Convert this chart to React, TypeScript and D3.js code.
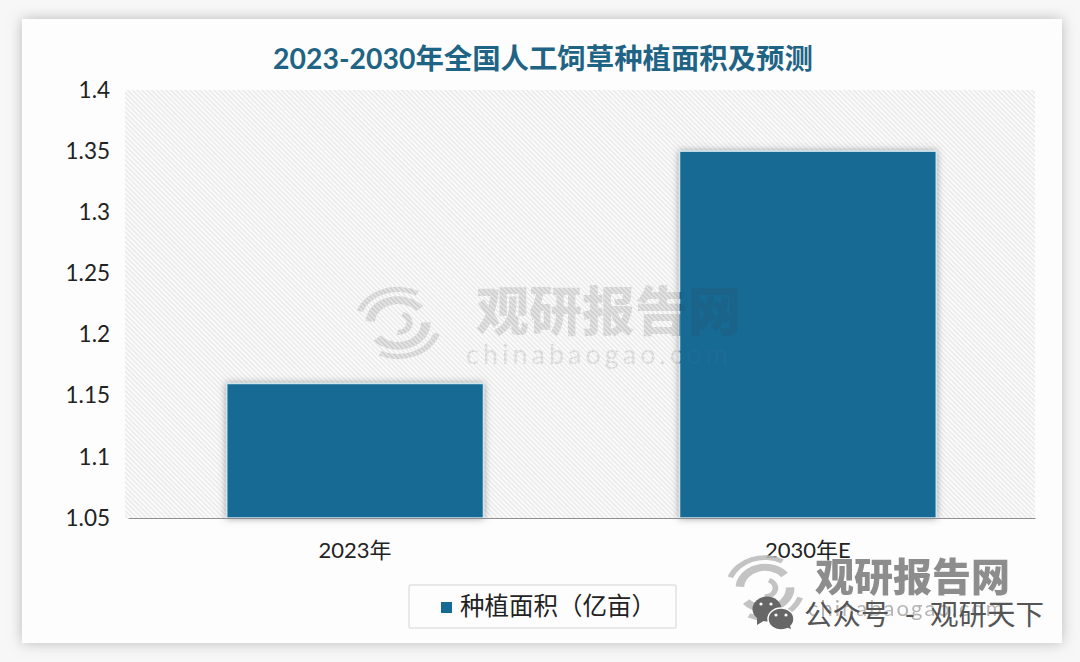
import React, { useEffect, useRef } from "react"
import * as d3 from "d3"

const categories = ["2023年", "2030年E"]
const areaValues = [1.16, 1.35]
const yTicks = [1.05, 1.1, 1.15, 1.2, 1.25, 1.3, 1.35, 1.4]
const yTickLabels = ["1.05", "1.1", "1.15", "1.2", "1.25", "1.3", "1.35", "1.4"]
const chartTitle = "2023-2030年全国人工饲草种植面积及预测"
const seriesName = "种植面积（亿亩）"
const brandName = "观研报告网"
const brandSite = "chinabaogao.com"

const WIDTH = 1080
const HEIGHT = 662
const MARGIN = { top: 90, right: 45, bottom: 144, left: 128 }
const FONT = 'Lato, "Noto Sans CJK SC", sans-serif'
const BAR = "#156a94"

// swirl logo of the watermark
function drawLogo(g: any, cx: number, cy: number, scale: number, color: string, opacity: number) {
  const logo = g.append("g").attr("transform", `translate(${cx},${cy}) scale(${scale},${scale * 0.82}) rotate(-12)`)
    .attr("fill", color).attr("opacity", opacity)
  const arc = d3.arc()
  const parts = [
    [22, 31, -1.3, 1.1], [22, 31, 1.75, 4.2], [36, 42, -1.0, 0.7], [36, 42, 2.1, 3.8],
    [8, 14, 0.6, 3.4],
  ]
  parts.forEach(([r0, r1, a0, a1]) => {
    logo.append("path").attr("d", arc({ innerRadius: r0, outerRadius: r1, startAngle: a0, endAngle: a1 }) as string)
  })
}

export default function App() {
  const svgRef = useRef<SVGSVGElement>(null)

  useEffect(() => {
    const svg = d3.select(svgRef.current)
    svg.selectAll("*").remove()

    const innerW = WIDTH - MARGIN.left - MARGIN.right
    const innerH = HEIGHT - MARGIN.top - MARGIN.bottom

    const x = d3.scaleBand<string>().domain(categories).range([0, innerW])
      .paddingInner(0.433).paddingOuter(0.218)
    const y = d3.scaleLinear().domain([1.05, 1.4]).range([innerH, 0])

    const defs = svg.append("defs")
    const hatch = defs.append("pattern").attr("id", "hatch")
      .attr("width", 3.4).attr("height", 3.4)
      .attr("patternUnits", "userSpaceOnUse")
      .attr("patternTransform", "rotate(45)")
    hatch.append("rect").attr("width", 3.4).attr("height", 1.4).attr("fill", "#e8e8e8")

    const cardShadow = defs.append("filter").attr("id", "cardShadow")
      .attr("x", "-5%").attr("y", "-5%").attr("width", "110%").attr("height", "110%")
    cardShadow.append("feDropShadow").attr("dx", 0).attr("dy", 0)
      .attr("stdDeviation", 7).attr("flood-color", "#8f8f8f").attr("flood-opacity", 0.6)

    const barShadow = defs.append("filter").attr("id", "barShadow")
      .attr("x", "-10%").attr("y", "-10%").attr("width", "120%").attr("height", "120%")
    barShadow.append("feDropShadow").attr("dx", 0).attr("dy", 0)
      .attr("stdDeviation", 3.5).attr("flood-color", "#666").attr("flood-opacity", 0.6)

    const soft = defs.append("filter").attr("id", "soft")
    soft.append("feGaussianBlur").attr("stdDeviation", 0.7)

    defs.append("clipPath").attr("id", "tallBar").append("rect")
      .attr("x", MARGIN.left + (x(categories[1]) as number))
      .attr("y", MARGIN.top + y(areaValues[1]))
      .attr("width", x.bandwidth())
      .attr("height", innerH - y(areaValues[1]))

    // Page and card
    svg.append("rect").attr("width", WIDTH).attr("height", HEIGHT).attr("fill", "#f7f7f7")
    svg.append("rect").attr("x", 22).attr("y", 19).attr("width", 1040).attr("height", 624)
      .attr("fill", "#fdfdfe").attr("filter", "url(#cardShadow)")

    svg.append("text").attr("x", 543).attr("y", 69).attr("text-anchor", "middle")
      .attr("font-family", FONT).attr("font-size", 28.4).attr("font-weight", 700)
      .attr("fill", "#1f6485").text(chartTitle)

    // Centre watermark goes under the hatching
    const drawCentreMark = (parent: any, text: string, site: string) => {
      const mark = parent.append("g").attr("filter", "url(#soft)")
      mark.append("text").attr("x", 476).attr("y", 331)
        .attr("font-family", FONT).attr("font-size", 53).attr("font-weight", 900)
        .attr("fill", text).text(brandName)
      mark.append("text").attr("x", 466).attr("y", 364)
        .attr("font-family", FONT).attr("font-size", 27).attr("letter-spacing", 4)
        .attr("fill", site).text(brandSite)
      return mark
    }
    svg.append("rect").attr("x", MARGIN.left - 3).attr("y", MARGIN.top)
      .attr("width", innerW + 3).attr("height", innerH).attr("fill", "#fbfbfb")
    const under = drawCentreMark(svg, "#cfcfcf", "#d6d6d6")
    drawLogo(under, 398, 323, 1.05, "#cfcfcf", 1)
    svg.append("rect").attr("x", MARGIN.left - 3).attr("y", MARGIN.top)
      .attr("width", innerW + 3).attr("height", innerH).attr("fill", "url(#hatch)")

    const root = svg.append("g").attr("transform", `translate(${MARGIN.left},${MARGIN.top})`)

    // Bars
    root.append("g").selectAll("rect").data(areaValues).join("rect")
      .attr("x", (_, i) => x(categories[i]) as number)
      .attr("y", (d) => y(d))
      .attr("width", x.bandwidth())
      .attr("height", (d) => innerH - y(d))
      .attr("fill", BAR)
      .attr("stroke", "#cfe6ef").attr("stroke-width", 1.5)
      .attr("filter", "url(#barShadow)")

    // Watermark showing faintly through the tall bar
    const overBar = svg.append("g").attr("clip-path", "url(#tallBar)")
    drawCentreMark(overBar, "#1a6389", "#1e6c96")

    // Axes
    const axisY = d3.axisLeft(y).tickValues(yTicks)
      .tickFormat((_, i) => yTickLabels[i]).tickSize(0).tickPadding(18)
    root.append("g").call(axisY)
      .call((g) => g.select(".domain").remove())
      .call((g) => g.selectAll("text").attr("fill", "#222").attr("font-size", 22.5).attr("font-family", FONT))

    const axisX = d3.axisBottom(x).tickSize(0).tickPadding(24)
    root.append("g").attr("transform", `translate(0,${innerH})`).call(axisX)
      .call((g) => g.select(".domain").attr("stroke", "#8f8f8f").attr("stroke-width", 1.2))
      .call((g) => g.selectAll("text").attr("fill", "#222").attr("font-size", 22).attr("font-family", FONT))

    // Legend
    const legend = svg.append("g").attr("transform", "translate(409,585)")
    legend.append("rect").attr("width", 267).attr("height", 43).attr("rx", 1)
      .attr("fill", "#fdfdfe").attr("stroke", "#d4d4d4")
    legend.append("rect").attr("x", 32).attr("y", 17).attr("width", 11).attr("height", 11).attr("fill", BAR)
    legend.append("text").attr("x", 51).attr("y", 30)
      .attr("font-family", FONT).attr("font-size", 24.5).attr("fill", "#222").text(seriesName)

    // Lower right watermark
    const corner = svg.append("g").attr("filter", "url(#soft)")
    drawLogo(corner, 765, 588, 0.95, "#bdbdbd", 0.9)
    corner.append("text").attr("x", 815).attr("y", 591)
      .attr("font-family", FONT).attr("font-size", 39).attr("font-weight", 900)
      .attr("fill", "#8d8d8d").text(brandName)
    corner.append("text").attr("x", 808).attr("y", 616)
      .attr("font-family", FONT).attr("font-size", 22).attr("letter-spacing", 2)
      .attr("fill", "#b5b5b5").text(brandSite)

    // WeChat badge
    const wx = svg.append("g").attr("fill", "#666")
    wx.append("ellipse").attr("cx", 767).attr("cy", 609).attr("rx", 14.5).attr("ry", 12.5)
    wx.append("path").attr("d", d3.line()([[757, 618], [757, 625], [765, 620]]) as string)
    wx.append("ellipse").attr("cx", 781).attr("cy", 619).attr("rx", 13).attr("ry", 11)
      .attr("stroke", "#fdfdfe").attr("stroke-width", 1.5)
    wx.append("path").attr("d", d3.line()([[785, 627], [791, 629], [789, 622]]) as string)
    const eyes = [[761, 604], [771, 604], [776, 615], [786, 615]]
    wx.append("g").selectAll("circle").data(eyes).join("circle")
      .attr("cx", (d) => d[0]).attr("cy", (d) => d[1]).attr("r", 1.6).attr("fill", "#fdfdfe")

    const badge = svg.append("text").attr("x", 804).attr("y", 625)
      .attr("font-family", FONT).attr("font-size", 28.5).attr("fill", "#555")
    badge.append("tspan").text("公众号")
    badge.append("tspan").attr("dx", 15).text("-")
    badge.append("tspan").attr("dx", 15).text("观研天下")
  }, [])

  return (
    <div style={{ position: "fixed", left: 0, top: 0 }}>
      <svg ref={svgRef} width={WIDTH} height={HEIGHT} style={{ display: "block" }} />
    </div>
  )
}
